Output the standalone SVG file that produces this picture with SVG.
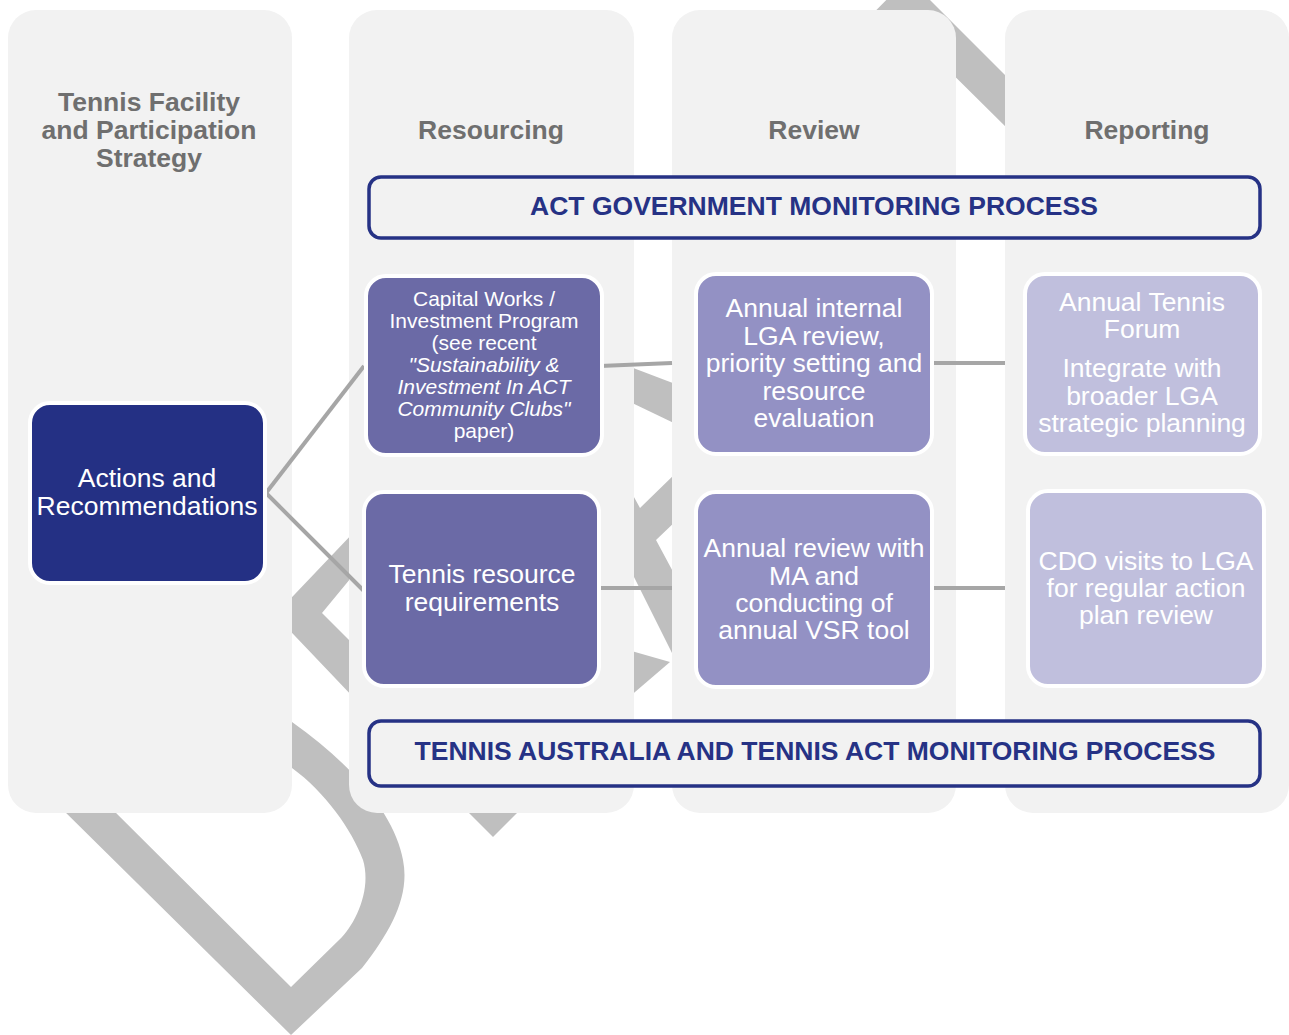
<svg xmlns="http://www.w3.org/2000/svg" width="1289" height="1035" viewBox="0 0 1289 1035">
  <style>
    .col { fill: #f2f2f2; }
    .deco { fill: #bfbfbf; }
    .head { font-family: "Liberation Sans", Arial, sans-serif; font-weight: bold; font-size: 26.5px; fill: #6f6f6f; text-anchor: middle; }
    .mon { fill: #f2f2f2; stroke: #263285; stroke-width: 3.5; }
    .montxt { font-family: "Liberation Sans", Arial, sans-serif; font-weight: bold; font-size: 26.5px; fill: #263285; text-anchor: middle; }
    .node { stroke: #ffffff; stroke-width: 4; }
    .dark { fill: #243084; }
    .res { fill: #6b6aa6; }
    .rev { fill: #9391c4; }
    .rep { fill: #c0bfdd; }
    .t { font-family: "Liberation Sans", Arial, sans-serif; font-size: 26.5px; fill: #ffffff; text-anchor: middle; }
    .ts { font-family: "Liberation Sans", Arial, sans-serif; font-size: 21px; fill: #ffffff; text-anchor: middle; }
    .it { font-style: italic; }
    .conn { stroke: #a6a6a6; stroke-width: 4; fill: none; }
  </style>

  <!-- background ribbon, mostly hidden behind the columns -->
  <g id="ribbon">
    <path class="deco" d="M58,805 L291,1035 L362,968 C392,930 410,895 403,860 C396,820 360,770 292,722 L282,716 L282,760 L292,768 C325,792 352,830 363,860 C372,890 355,925 339,940 L291,987 L108,805 Z"/>
    <polygon class="deco" points="455,799 493,837 531,799"/>
    <polygon class="deco" points="355,531 355,573 322,613 355,646 355,699 275,615"/>
    <polygon class="deco" points="628,366 678,385 678,425 628,401"/>
    <polygon class="deco" points="629,488 640,508 678,471 678,519 656,540 678,581 678,665 629,567"/>
    <polygon class="deco" points="628,650 670,662 628,698"/>
    <polygon class="deco" points="908,-22 1012,82 1012,133 908,30 830,108 830,57"/>
  </g>

  <!-- columns -->
  <g id="columns">
    <rect id="col-strategy" class="col" x="8" y="10" width="284" height="803" rx="28"/>
    <rect id="col-resourcing" class="col" x="349" y="10" width="285" height="803" rx="28"/>
    <rect id="col-review" class="col" x="672" y="10" width="284" height="803" rx="28"/>
    <rect id="col-reporting" class="col" x="1005" y="10" width="284" height="803" rx="28"/>
  </g>

  <!-- column headings -->
  <g id="headings">
    <text class="head" x="149" y="111">Tennis Facility</text>
    <text class="head" x="149" y="139">and Participation</text>
    <text class="head" x="149" y="167">Strategy</text>
    <text class="head" x="491" y="139">Resourcing</text>
    <text class="head" x="814" y="139">Review</text>
    <text class="head" x="1147" y="139">Reporting</text>
  </g>

  <!-- connectors -->
  <g id="connectors">
    <line class="conn" x1="266" y1="493" x2="364" y2="366"/>
    <line class="conn" x1="266" y1="493" x2="364" y2="591"/>
    <line class="conn" x1="600" y1="366" x2="672" y2="363"/>
    <line class="conn" x1="598" y1="588" x2="672" y2="588"/>
    <line class="conn" x1="931" y1="363" x2="1005" y2="363"/>
    <line class="conn" x1="931" y1="588" x2="1005" y2="588"/>
  </g>

  <!-- monitoring bands -->
  <g id="act-monitoring">
    <rect class="mon" x="369" y="177" width="891" height="61" rx="12"/>
    <text class="montxt" x="814" y="215">ACT GOVERNMENT MONITORING PROCESS</text>
  </g>
  <g id="ta-monitoring">
    <rect class="mon" x="369" y="721" width="891" height="65" rx="12"/>
    <text class="montxt" x="815" y="760">TENNIS AUSTRALIA AND TENNIS ACT MONITORING PROCESS</text>
  </g>

  <!-- nodes -->
  <g id="actions">
    <rect class="node dark" x="30" y="403" width="235" height="180" rx="20"/>
    <text class="t" x="147" y="487">Actions and</text>
    <text class="t" x="147" y="515">Recommendations</text>
  </g>

  <g id="capital-works">
    <rect class="node res" x="366" y="276" width="236" height="179" rx="20"/>
    <text class="ts" x="484" y="305.5">Capital Works /</text>
    <text class="ts" x="484" y="327.5">Investment Program</text>
    <text class="ts" x="484" y="349.5">(see recent</text>
    <text class="ts it" x="484" y="371.5">"Sustainability &amp;</text>
    <text class="ts it" x="484" y="393.5">Investment In ACT</text>
    <text class="ts it" x="484" y="415.5">Community Clubs"</text>
    <text class="ts" x="484" y="437.5">paper)</text>
  </g>

  <g id="resource-requirements">
    <rect class="node res" x="364" y="492" width="235" height="194" rx="20"/>
    <text class="t" x="482" y="583">Tennis resource</text>
    <text class="t" x="482" y="611">requirements</text>
  </g>

  <g id="lga-review">
    <rect class="node rev" x="696" y="274" width="236" height="180" rx="20"/>
    <text class="t" x="814" y="317">Annual internal</text>
    <text class="t" x="814" y="344.5">LGA review,</text>
    <text class="t" x="814" y="372">priority setting and</text>
    <text class="t" x="814" y="399.5">resource</text>
    <text class="t" x="814" y="427">evaluation</text>
  </g>

  <g id="ma-review">
    <rect class="node rev" x="696" y="492" width="236" height="195" rx="20"/>
    <text class="t" x="814" y="557">Annual review with</text>
    <text class="t" x="814" y="584.5">MA and</text>
    <text class="t" x="814" y="612">conducting of</text>
    <text class="t" x="814" y="639">annual VSR tool</text>
  </g>

  <g id="tennis-forum">
    <rect class="node rep" x="1025" y="274" width="235" height="180" rx="20"/>
    <text class="t" x="1142" y="311">Annual Tennis</text>
    <text class="t" x="1142" y="338">Forum</text>
    <text class="t" x="1142" y="377">Integrate with</text>
    <text class="t" x="1142" y="405">broader LGA</text>
    <text class="t" x="1142" y="432">strategic planning</text>
  </g>

  <g id="cdo-visits">
    <rect class="node rep" x="1028" y="491" width="236" height="195" rx="20"/>
    <text class="t" x="1146" y="569.5">CDO visits to LGA</text>
    <text class="t" x="1146" y="597">for regular action</text>
    <text class="t" x="1146" y="623.5">plan review</text>
  </g>
</svg>
